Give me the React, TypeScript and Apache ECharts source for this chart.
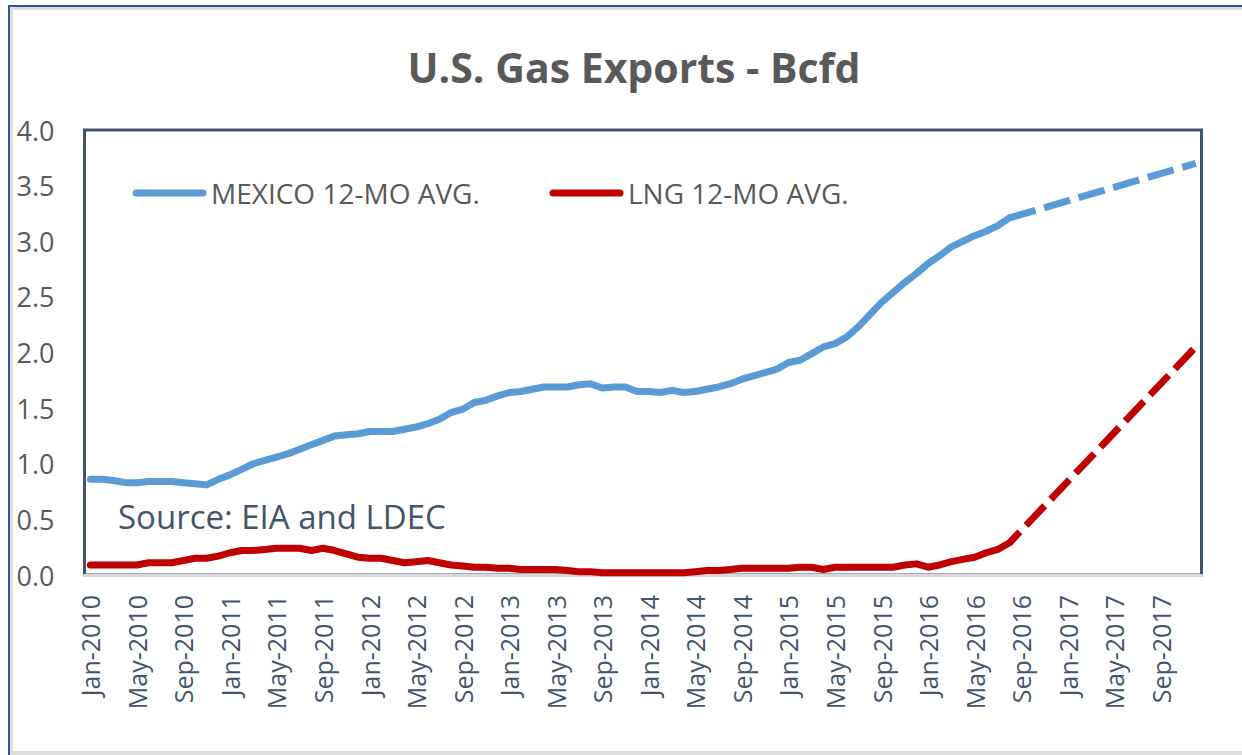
import React, { useEffect, useRef } from "react";
import * as echarts from "echarts";

const monthNames = ["Jan", "Feb", "Mar", "Apr", "May", "Jun", "Jul", "Aug", "Sep", "Oct", "Nov", "Dec"];
const years = [2010, 2011, 2012, 2013, 2014, 2015, 2016, 2017];
const categories: string[] = years.flatMap((y) => monthNames.map((m) => `${m}-${y}`));

// Actual 12-month averages, Jan-2010 .. Aug-2016
const mexicoActual = [
  0.86, 0.86, 0.85, 0.83, 0.83, 0.84, 0.84, 0.84, 0.83, 0.82,
  0.81, 0.86, 0.9, 0.95, 1.0, 1.03, 1.06, 1.09, 1.13, 1.17,
  1.21, 1.25, 1.26, 1.27, 1.29, 1.29, 1.29, 1.31, 1.33, 1.36,
  1.4, 1.46, 1.49, 1.55, 1.57, 1.61, 1.64, 1.65, 1.67, 1.69,
  1.69, 1.69, 1.71, 1.72, 1.68, 1.69, 1.69, 1.65, 1.65, 1.64,
  1.66, 1.64, 1.65, 1.67, 1.69, 1.72, 1.76, 1.79, 1.82, 1.85,
  1.91, 1.93, 1.99, 2.05, 2.08, 2.14, 2.23, 2.34, 2.45, 2.54,
  2.63, 2.71, 2.8, 2.87, 2.95, 3.0, 3.05, 3.09, 3.14, 3.21,
];
const lngActual = [
  0.09, 0.09, 0.09, 0.09, 0.09, 0.11, 0.11, 0.11, 0.13, 0.15,
  0.15, 0.17, 0.2, 0.22, 0.22, 0.23, 0.24, 0.24, 0.24, 0.22,
  0.24, 0.22, 0.19, 0.16, 0.15, 0.15, 0.13, 0.11, 0.12, 0.13,
  0.11, 0.09, 0.08, 0.07, 0.07, 0.06, 0.06, 0.05, 0.05, 0.05,
  0.05, 0.04, 0.03, 0.03, 0.02, 0.02, 0.02, 0.02, 0.02, 0.02,
  0.02, 0.02, 0.03, 0.04, 0.04, 0.05, 0.06, 0.06, 0.06, 0.06,
  0.06, 0.07, 0.07, 0.05, 0.07, 0.07, 0.07, 0.07, 0.07, 0.07,
  0.09, 0.1, 0.07, 0.09, 0.12, 0.14, 0.16, 0.2, 0.23, 0.29,
];
// Forecast segments (Aug-2016 -> Dec-2017)
const forecastMonths = ["Aug-2016", "Dec-2017"];
const mexicoForecast = [3.21, 3.7];
const lngForecast = [0.29, 2.05];

const yTicks = [0, 0.5, 1, 1.5, 2, 2.5, 3, 3.5, 4];

const BLUE = "#5B9BD5";
const RED = "#C00000";
const FONT = "Open Sans";

export default function App() {
  const ref = useRef<HTMLDivElement>(null);
  useEffect(() => {
    if (!ref.current) return;
    const chart = echarts.init(ref.current, undefined, { renderer: "svg" });
    const fIdx = forecastMonths.map((m) => categories.indexOf(m));
    chart.setOption({
      animation: false,
      backgroundColor: "#ffffff",
      textStyle: { fontFamily: FONT },
      grid: {
        left: 84.5,
        right: 40.5,
        top: 130,
        bottom: 180,
        show: true,
        borderColor: "#44546A",
        borderWidth: 3,
        backgroundColor: "transparent",
      },
      xAxis: {
        type: "category",
        data: categories,
        boundaryGap: true,
        axisLine: { show: true, lineStyle: { color: "#D9D9D9", width: 3 } },
        axisTick: { show: false },
        axisLabel: {
          interval: 3,
          rotate: 90,
          margin: 20,
          color: "#44546A",
          fontSize: 25,
          fontFamily: FONT,
        },
        splitLine: { show: false },
      },
      yAxis: {
        type: "value",
        min: yTicks[0],
        max: yTicks[yTicks.length - 1],
        interval: 0.5,
        axisLine: { show: false },
        axisTick: { show: false },
        splitLine: { show: false },
        axisLabel: {
          margin: 30,
          color: "#595959",
          fontSize: 27,
          fontFamily: FONT,
          formatter: (v: number) => v.toFixed(1),
        },
      },
      series: [
        {
          name: "MEXICO 12-MO AVG.",
          type: "line",
          data: mexicoActual,
          symbol: "none",
          lineStyle: { color: BLUE, width: 7, cap: "round", join: "round" },
          z: 3,
        },
        {
          name: "MEXICO forecast",
          type: "line",
          data: fIdx.map((i, k) => [i, mexicoForecast[k]]),
          symbol: "none",
          lineStyle: { color: BLUE, width: 7, type: [27, 9], cap: "butt" },
          z: 3,
        },
        {
          name: "LNG 12-MO AVG.",
          type: "line",
          data: lngActual,
          symbol: "none",
          lineStyle: { color: RED, width: 7, cap: "round", join: "round" },
          z: 4,
        },
        {
          name: "LNG forecast",
          type: "line",
          data: fIdx.map((i, k) => [i, lngForecast[k]]),
          symbol: "none",
          lineStyle: { color: RED, width: 7, type: [27, 9], dashOffset: 12, cap: "butt" },
          z: 4,
        },
      ],
      graphic: [
        { type: "rect", silent: true, shape: { x: 8, y: 5, width: 1234, height: 2 }, style: { fill: "#2F5597" } },
        { type: "rect", silent: true, shape: { x: 8, y: 5, width: 2, height: 750 }, style: { fill: "#2F5597" } },
        { type: "rect", silent: true, shape: { x: 10, y: 7, width: 1232, height: 3 }, style: { fill: "#DDDDDD" } },
        { type: "rect", silent: true, shape: { x: 10, y: 7, width: 3, height: 748 }, style: { fill: "#DDDDDD" } },
        { type: "rect", silent: true, shape: { x: 10, y: 751, width: 1232, height: 4 }, style: { fill: "#DDDDDD" } },
        {
          type: "text",
          x: 634,
          y: 67,
          style: {
            text: "U.S. Gas Exports - Bcfd",
            fontFamily: FONT,
            fontWeight: "bold",
            fontSize: 41,
            fill: "#595959",
            align: "center",
            verticalAlign: "middle",
          },
        },
        {
          type: "line",
          shape: { x1: 136, y1: 193, x2: 203, y2: 193 },
          style: { stroke: BLUE, lineWidth: 7, lineCap: "round" },
        },
        {
          type: "text",
          x: 211,
          y: 193,
          style: { text: "MEXICO 12-MO AVG.", fontFamily: FONT, fontSize: 28, fill: "#595959", verticalAlign: "middle" },
        },
        {
          type: "line",
          shape: { x1: 553, y1: 193, x2: 620, y2: 193 },
          style: { stroke: RED, lineWidth: 7, lineCap: "round" },
        },
        {
          type: "text",
          x: 628,
          y: 193,
          style: { text: "LNG 12-MO AVG.", fontFamily: FONT, fontSize: 28, fill: "#595959", verticalAlign: "middle" },
        },
        {
          type: "text",
          x: 118,
          y: 516,
          style: { text: "Source: EIA and LDEC", fontFamily: FONT, fontSize: 33, fill: "#44546A", verticalAlign: "middle" },
        },
      ],
    });
    return () => chart.dispose();
  }, []);
  return (
    <div
      ref={ref}
      style={{ position: "absolute", left: 0, top: 0, width: 1242, height: 755, background: "#fff" }}
    />
  );
}
